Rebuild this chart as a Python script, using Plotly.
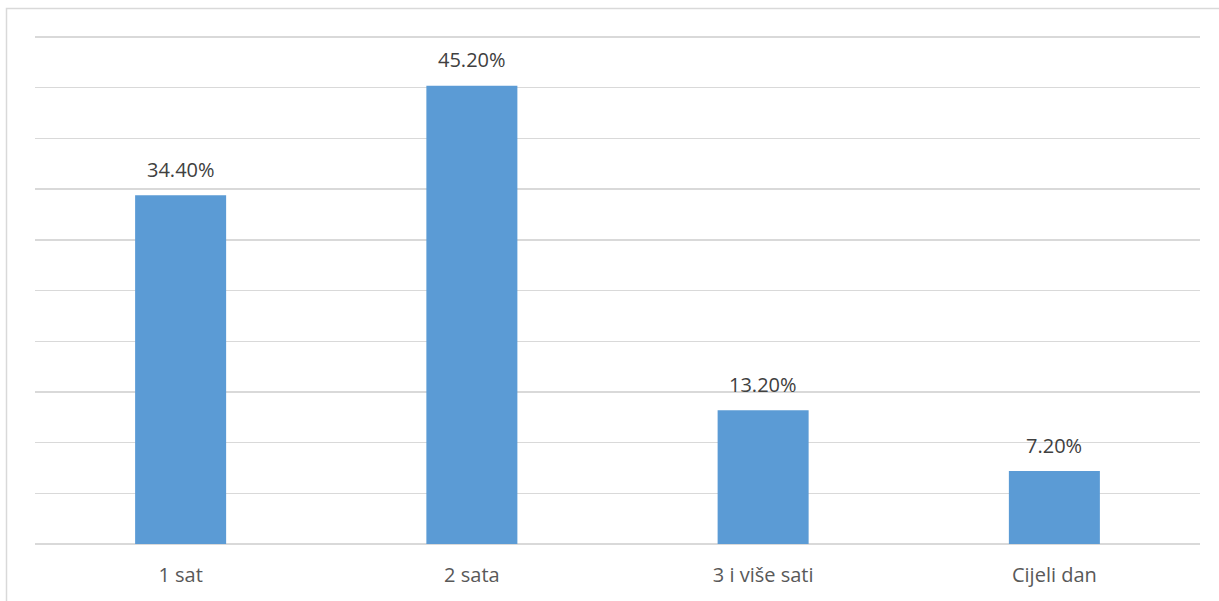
import plotly.graph_objects as go

categories = ["1 sat", "2 sata", "3 i više sati", "Cijeli dan"]
values = [34.4, 45.2, 13.2, 7.2]
labels = ["34.40%", "45.20%", "13.20%", "7.20%"]

W, H = 1219, 601
L, R, T, B = 35, 19, 34, 57
YMAX = 50.3

fig = go.Figure(go.Bar(
    x=categories, y=values, width=0.3125,
    marker=dict(color="#5B9BD5", line=dict(width=0)),
    hoverinfo="skip",
))

for c, v, t in zip(categories, values, labels):
    fig.add_annotation(x=c, y=v, text=t, showarrow=False, yanchor="middle",
                       yshift=26, font=dict(family="Open Sans", size=20, color="#404040"))

pw = W - L - R
ph = H - T - B
fig.add_shape(type="rect", xref="paper", yref="paper",
              x0=(6.5 - L) / pw, x1=(W + 5 - L) / pw,
              y0=-(H + 5 - T - ph) / ph, y1=(H - B - 8.5) / ph,
              line=dict(color="#D9D9D9", width=1.5), layer="below")

fig.update_layout(
    width=W, height=H,
    margin=dict(l=L, r=R, t=T, b=B, autoexpand=False),
    paper_bgcolor="white", plot_bgcolor="white",
    showlegend=False, hovermode=False,
    xaxis=dict(showgrid=False, showline=False, ticks="", ticklabelstandoff=17,
               tickfont=dict(family="Open Sans", size=20, color="#595959")),
    yaxis=dict(range=[0, YMAX], tickvals=[0, 5, 10, 15, 20, 25, 30, 35, 40, 45, 50],
               showticklabels=False, showgrid=True,
               gridcolor="#D9D9D9", gridwidth=1.4, zeroline=True,
               zerolinecolor="#D9D9D9", zerolinewidth=1.4, showline=False),
)

fig.write_html("out.html", config={"displayModeBar": False, "staticPlot": True},
               post_script="document.body.style.margin='0';document.body.style.overflow='hidden';")
